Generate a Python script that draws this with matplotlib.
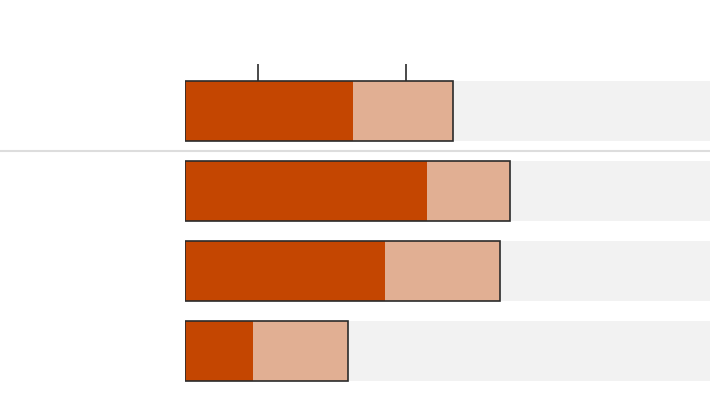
import numpy as np
import matplotlib
matplotlib.use("Agg")
import matplotlib.pyplot as plt

# values in percent of the full grey track
primary = [32.0, 46.1, 38.1, 13.0]
secondary = [19.0, 15.8, 21.9, 18.0]
markers = [13.9, 42.1]
track_max = 100

dark = '#C44601'
light = '#E1AF93'
track = '#F2F2F2'
edge = '#2b2b2b'

fig = plt.figure(figsize=(7.1, 4.0), dpi=100)
ax = fig.add_axes([185 / 710, 0, 525 / 710, 1])

rows = np.arange(len(primary))
h = 0.75
total = np.array(primary) + np.array(secondary)

ax.barh(rows, track_max, height=h, color=track, lw=0, zorder=1)
ax.barh(rows, primary, height=h, color=dark, lw=0, zorder=2)
ax.barh(rows, secondary, left=primary, height=h, color=light, lw=0, zorder=2)
ax.barh(rows, total, height=h, fill=False, edgecolor=edge, lw=1.2, zorder=3)

# marker ticks above the first row
ax.vlines(markers, -0.5875, -0.375, color=edge, lw=1.2, zorder=3)

# separator below the first row, running across the whole figure
ax.axhline(0.5, xmin=-185 / 525, xmax=1, color='#dddddd', lw=1.5,
           clip_on=False, zorder=1)

ax.set_xlim(0, track_max)
ax.set_ylim(3.6125, -1.3875)
ax.axis('off')

fig.savefig('out.png', dpi=100)
